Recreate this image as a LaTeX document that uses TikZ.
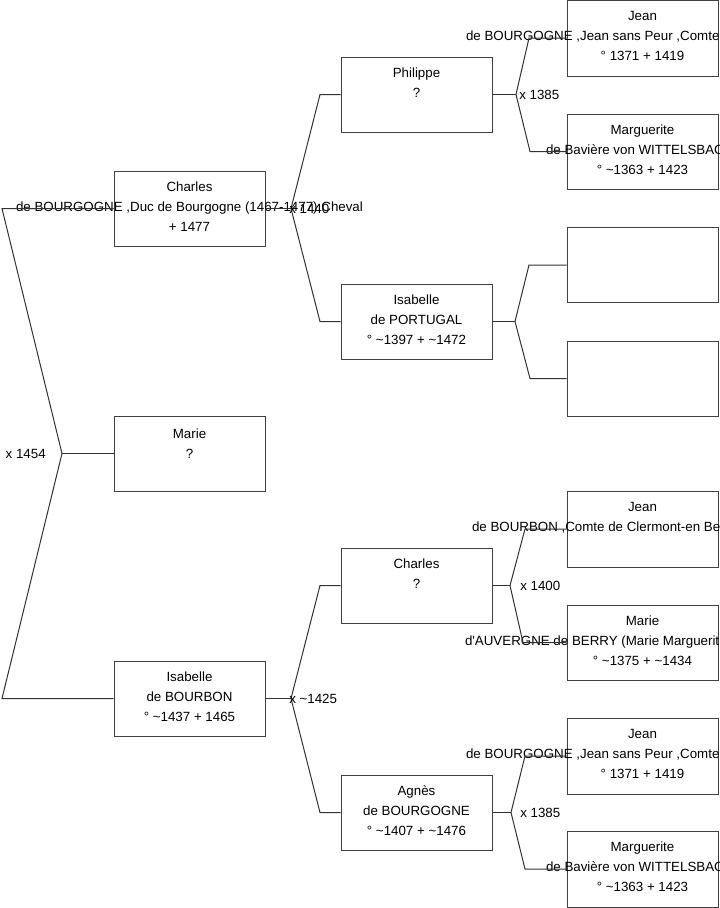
\documentclass[tikz,border=0pt]{standalone}
\usepackage{fontspec}
\setmainfont{Liberation Sans}
\usetikzlibrary{positioning}

\begin{document}
\begin{tikzpicture}[x=0.75pt, y=-0.75pt,
    box/.style={draw=black!75, line width=0.75pt, minimum width=113.25pt, minimum height=56.25pt, inner sep=0pt},
    txt/.style={anchor=north, yshift=-8.5pt, align=center, inner sep=0pt, font=\fontsize{10}{15}\selectfont},
    lnk/.style={draw=black!80, line width=0.75pt},
    wed/.style={inner sep=0pt, font=\fontsize{10}{15}\selectfont}]
    \fill[white] (0,0) rectangle (719,908);
    \clip (0,0) rectangle (719,908);

    % generation 1
    \node[box] (charles) at (189.5,208.5) {};
    \node[txt] at (charles.north) {Charles\\de BOURGOGNE ,Duc de Bourgogne (1467-1477),Cheval\\+ 1477};
    \node[box] (marie) at (189.5,453.5) {};
    \node[txt, yshift=-1.5pt] at (marie.north) {Marie\\?};
    \node[box] (isabelleB) at (189.5,698.5) {};
    \node[txt] at (isabelleB.north) {Isabelle\\de BOURBON\\° \textasciitilde1437 + 1465};

    % generation 2
    \node[box] (philippe) at (416.5,94.5) {};
    \node[txt] at (philippe.north) {Philippe\\?};
    \node[box] (isabelleP) at (416.5,321.5) {};
    \node[txt] at (isabelleP.north) {Isabelle\\de PORTUGAL\\° \textasciitilde1397 + \textasciitilde1472};
    \node[box] (charlesB) at (416.5,585.5) {};
    \node[txt] at (charlesB.north) {Charles\\?};
    \node[box] (agnes) at (416.5,812.5) {};
    \node[txt] at (agnes.north) {Agnès\\de BOURGOGNE\\° \textasciitilde1407 + \textasciitilde1476};

    % generation 3
    \node[box, minimum height=57pt] (jeanA) at (642.5,38) {};
    \node[txt] at (jeanA.north) {Jean\\\makebox[264.75pt][l]{de BOURGOGNE ,Jean sans Peur ,Comte}\\° 1371 + 1419};
    \node[box] (margA) at (642.5,151.5) {};
    \node[txt] at (margA.north) {Marguerite\\\makebox[144.75pt][l]{de Bavière von WITTELSBAC}\\° \textasciitilde1363 + 1423};
    \node[box] (emptyA) at (642.5,265) {};
    \node[box] (emptyB) at (642.5,378.5) {};
    \node[box, minimum height=57pt] (jeanB) at (642.5,529) {};
    \node[txt] at (jeanB.north) {Jean\\\makebox[255.75pt][l]{de BOURBON ,Comte de Clermont-en Be}};
    \node[box] (marieA) at (642.5,642.5) {};
    \node[txt] at (marieA.north) {Marie\\\makebox[266.25pt][l]{d\textquotesingle AUVERGNE de BERRY (Marie Marguerit}\\° \textasciitilde1375 + \textasciitilde1434};
    \node[box, minimum height=57pt] (jeanC) at (642.5,756) {};
    \node[txt] at (jeanC.north) {Jean\\\makebox[264.75pt][l]{de BOURGOGNE ,Jean sans Peur ,Comte}\\° 1371 + 1419};
    \node[box, minimum height=57pt] (margB) at (642.5,869) {};
    \node[txt] at (margB.north) {Marguerite\\\makebox[144.75pt][l]{de Bavière von WITTELSBAC}\\° \textasciitilde1363 + 1423};

    % root couple
    \coordinate (v0) at (62,453.5);
    \coordinate (r1) at (2,208.5);
    \coordinate (r2) at (2,698.5);
    \draw[lnk] (charles.west) -- (r1) -- (v0) -- (r2) -- (isabelleB.west);
    \draw[lnk] (v0) -- (marie.west);
    \node[wed, left=12pt of v0] (w0) {x 1454};

    % parents of Charles
    \coordinate (v1) at (291,208.5);
    \coordinate (p1) at (320,94.5);
    \coordinate (p2) at (320,321.5);
    \draw[lnk] (charles.east) -- (v1);
    \draw[lnk] (v1) -- (p1) -- (philippe.west);
    \draw[lnk] (v1) -- (p2) -- (isabelleP.west);
    \node[wed, anchor=west] (w1) at (289,208.5) {x 1440};

    % parents of Isabelle
    \coordinate (v2) at (291,698.5);
    \coordinate (p3) at (320,585.5);
    \coordinate (p4) at (320,812.5);
    \draw[lnk] (isabelleB.east) -- (v2);
    \draw[lnk] (v2) -- (p3) -- (charlesB.west);
    \draw[lnk] (v2) -- (p4) -- (agnes.west);
    \node[wed, anchor=west] (w2) at (289,698.5) {x \textasciitilde1425};

    % parents of Philippe
    \coordinate (v3) at (516,94.5);
    \coordinate (p5) at (529,38);
    \coordinate (p6) at (530,151.5);
    \draw[lnk] (philippe.east) -- (v3);
    \draw[lnk] (v3) -- (p5) -- (jeanA.west);
    \draw[lnk] (v3) -- (p6) -- (margA.west);
    \node[wed, right=2.25pt of v3] (w3) {x 1385};

    % parents of Isabelle de Portugal
    \coordinate (v4) at (515,321.5);
    \coordinate (p7) at (529,265);
    \coordinate (p8) at (530,378.5);
    \draw[lnk] (isabelleP.east) -- (v4);
    \draw[lnk] (v4) -- (p7) -- (emptyA.west);
    \draw[lnk] (v4) -- (p8) -- (emptyB.west);

    % parents of Charles (bottom)
    \coordinate (v5) at (510,585.5);
    \coordinate (p9) at (525,529);
    \coordinate (p10) at (523,642.5);
    \draw[lnk] (charlesB.east) -- (v5);
    \draw[lnk] (v5) -- (p9) -- (jeanB.west);
    \draw[lnk] (v5) -- (p10) -- (marieA.west);
    \node[wed, anchor=west] (w5) at (520,585.5) {x 1400};

    % parents of Agnes
    \coordinate (v6) at (511,812.5);
    \coordinate (p11) at (525,756);
    \coordinate (p12) at (525,869);
    \draw[lnk] (agnes.east) -- (v6);
    \draw[lnk] (v6) -- (p11) -- (jeanC.west);
    \draw[lnk] (v6) -- (p12) -- (margB.west);
    \node[wed, anchor=west] (w6) at (520,812.5) {x 1385};
\end{tikzpicture}
\end{document}
